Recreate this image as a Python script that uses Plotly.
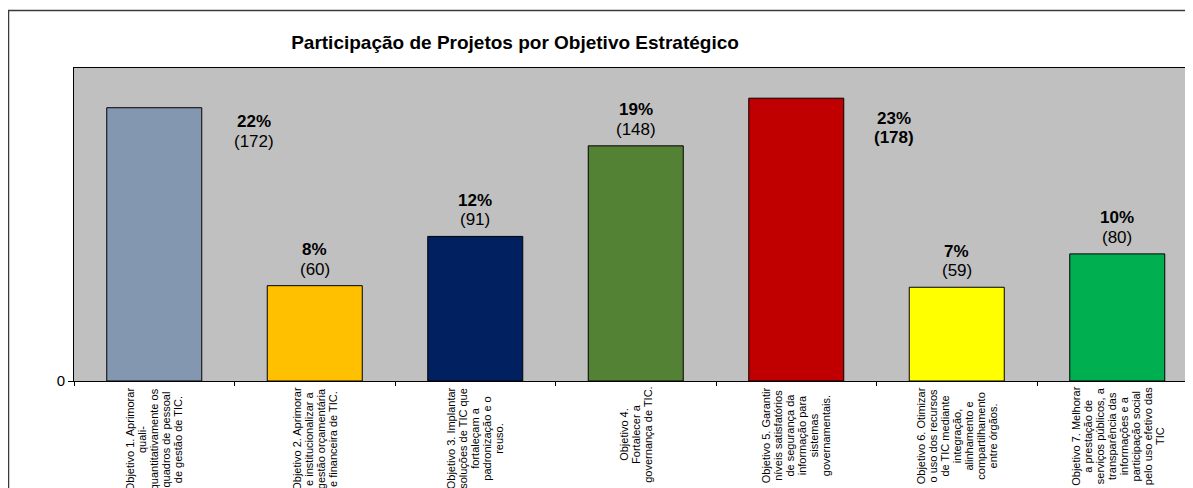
import plotly.graph_objects as go

# ---------------- data ----------------
categories = ["Objetivo 1", "Objetivo 2", "Objetivo 3", "Objetivo 4",
              "Objetivo 5", "Objetivo 6", "Objetivo 7"]
counts = [172, 60, 91, 148, 178, 59, 80]
percents = ["22%", "8%", "12%", "19%", "23%", "7%", "10%"]
tick_labels = [
    ["Objetivo 1. Aprimorar", "quali-", "quantitativamente os", "quadros de pessoal", "de gestão de TIC."],
    ["Objetivo 2. Aprimorar", "e institucionalizar a", "gestão orçamentária", "e financeira de TIC."],
    ["Objetivo 3. Implantar", "soluções de TIC que", "fortaleçam a", "padronização e o", "reuso."],
    ["Objetivo 4.", "Fortalecer a", "governança de TIC."],
    ["Objetivo 5. Garantir", "níveis satisfatórios", "de segurança da", "informação para", "sistemas",
     "governamentais."],
    ["Objetivo 6. Otimizar", "o uso dos recursos", "de TIC mediante", "integração,", "alinhamento e",
     "compartilhamento", "entre órgãos."],
    ["Objetivo 7. Melhorar", "a prestação de", "serviços públicos, a", "transparência das",
     "informações e a", "participação social", "pelo uso efetivo das", "TIC"],
]
title_text = "Participação de Projetos por Objetivo Estratégico"

# ---------------- styles ----------------
bar_colors = ["#8497B0", "#FFC000", "#002060", "#548235", "#C00000", "#FFFF00", "#00B050"]
FONT = "Liberation Sans, Arial, sans-serif"
# label placement: (xshift, pct yshift, count yshift, count bold)
label_place = [(100, -14, -34, False), (0, 36, 16.5, False), (0, 36, 16.5, False),
               (0, 36, 16.5, False), (98, -20, -39, True), (0, 36, 16.5, False),
               (0, 36, 16.5, False)]
TICK_GLYPH = 11      # glyph size of category labels
TICK_LINE = 12.0     # line pitch of category labels (px)

# the page body adds an 8px margin, so the figure is sized/placed accordingly
W, H = 1185, 480
L, T, B = 66, 60, 107
plot_w = W - L
plot_h = H - T - B
cat_px = 160.5
x_max = -0.5 + plot_w / cat_px

fig = go.Figure()
fig.add_trace(go.Bar(
    x=categories, y=counts,
    marker=dict(color=bar_colors, line=dict(color="black", width=1)),
    width=95 / cat_px,
    hoverinfo="x+y",
))

annotations = []
for i, cat in enumerate(categories):
    xs, ys_p, ys_c, bold_c = label_place[i]
    annotations.append(dict(
        x=cat, y=counts[i], xref="x", yref="y", text="<b>%s</b>" % percents[i],
        showarrow=False, xanchor="center", yanchor="middle", xshift=xs, yshift=ys_p,
        font=dict(family=FONT, size=17, color="black")))
    ctext = "(%d)" % counts[i]
    if bold_c:
        ctext = "<b>%s</b>" % ctext
    annotations.append(dict(
        x=cat, y=counts[i], xref="x", yref="y", text=ctext,
        showarrow=False, xanchor="center", yanchor="middle", xshift=xs, yshift=ys_c,
        font=dict(family=FONT, size=17, color="black")))
    label = "<br>".join('<span style="font-size:%gpx">%s</span>' % (TICK_GLYPH, ln)
                        for ln in tick_labels[i])
    annotations.append(dict(
        x=cat, y=0, xref="x", yref="y", text=label,
        showarrow=False, xanchor="center", yanchor="top", yshift=-4,
        textangle=-90, align="center",
        font=dict(family=FONT, size=TICK_LINE / 1.3, color="black")))

shapes = [dict(
    type="rect", xref="paper", yref="paper",
    x0=(0.5 - L) / plot_w, x1=1.2,
    y0=-1.0, y1=(plot_h + T - 2.5) / plot_h,
    line=dict(color="#3a3a3a", width=1.5), fillcolor="rgba(0,0,0,0)", layer="below")]

# category boundaries (for the tick marks that cross the axis)
boundaries = [k + 0.5 for k in range(len(categories) - 1)]

fig.update_layout(
    width=W, height=H,
    margin=dict(l=L, r=0, t=T, b=B, pad=0),
    paper_bgcolor="white",
    plot_bgcolor="#C0C0C0",
    showlegend=False,
    title=dict(text="<b>%s</b>" % title_text, x=507 / W, xanchor="center",
               y=1 - 34 / H, yanchor="middle",
               font=dict(family=FONT, size=19, color="black")),
    annotations=annotations,
    shapes=shapes,
    xaxis=dict(range=[-0.5, x_max], showticklabels=False, showgrid=False,
               zeroline=False, showline=True, linecolor="black", linewidth=1,
               mirror=True, ticks="outside", tickson="boundaries", ticklen=4,
               tickcolor="black", fixedrange=True),
    xaxis2=dict(range=[-0.5, x_max], overlaying="x", anchor="y", side="bottom",
                tickvals=boundaries, showticklabels=False, showgrid=False,
                zeroline=False, showline=False, ticks="inside", ticklen=3,
                tickcolor="black", fixedrange=True),
    yaxis=dict(range=[0, 197], tickvals=[0], ticktext=["0"], showgrid=False,
               zeroline=False, showline=True, linecolor="black", linewidth=1,
               ticks="outside", ticklen=5, tickcolor="black",
               tickfont=dict(family=FONT, size=15, color="black"), fixedrange=True),
    font=dict(family=FONT),
)

fig.write_html("out.html", config={"displayModeBar": False})
